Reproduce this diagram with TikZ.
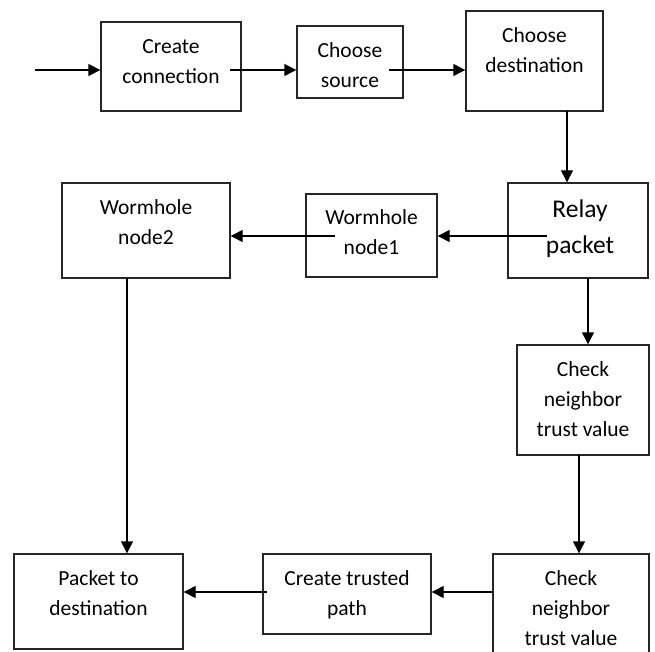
\documentclass[tikz,border=0pt]{standalone}
\usepackage{fontspec}
\setmainfont{Carlito}
\usetikzlibrary{arrows.meta}
\begin{document}
\begin{tikzpicture}[x=1pt,y=-1pt,
  box/.style={draw=black!85,line width=1.4pt,inner sep=0pt,rectangle},
  txt/.style={align=center,inner sep=0pt,font=\fontsize{21.5}{30}\selectfont},
  bigtxt/.style={align=center,inner sep=0pt,font=\fontsize{25.5}{36}\selectfont},
  arr/.style={line width=1.4pt,draw=black,-{Triangle[length=12pt,width=12pt]}}]
\path[use as bounding box,clip] (0,0) rectangle (655,652);
% boxes
\node[box,minimum width=140pt,minimum height=89pt] (cc) at (171,66.5) {};
\node[box,minimum width=106pt,minimum height=72pt] (cs) at (350,62) {};
\node[box,minimum width=137pt,minimum height=100pt] (cd) at (534.5,61) {};
\node[box,minimum width=140pt,minimum height=95pt] (rp) at (578,230.5) {};
\node[box,minimum width=131pt,minimum height=83pt] (wn1) at (371.5,235.5) {};
\node[box,minimum width=168pt,minimum height=95pt] (wn2) at (146,230.5) {};
\node[box,minimum width=132pt,minimum height=110pt] (ch1) at (583,400) {};
\node[box,minimum width=169pt,minimum height=95pt] (pd) at (98.5,601.5) {};
\node[box,minimum width=168pt,minimum height=80pt] (ctp) at (347,594) {};
\node[box,minimum width=156pt,minimum height=126pt] (ch2) at (571,617) {};
% texts
\node[txt] (cct) at (171,62) {Create\\connection};
\node[txt] (cst) at (350,65) {Choose\\source};
\node[txt] (cdt) at (534.5,50.5) {Choose\\destination};
\node[bigtxt] (rpt) at (580,229) {Relay\\packet};
\node[txt] (wn1t) at (371.5,232.5) {Wormhole\\node1};
\node[txt] (wn2t) at (146,222.5) {Wormhole\\node2};
\node[txt] (ch1t) at (583,399.5) {Check\\neighbor\\trust value};
\node[txt] (pdt) at (98.5,593.5) {Packet to\\destination};
\node[txt] (ctpt) at (347,594.5) {Create trusted\\path};
\node[txt] (ch2t) at (571,608.5) {Check\\neighbor\\trust value};
% connector start points
\coordinate (s0) at (35,70);
\coordinate (s1) at (230,70);
\coordinate (s2) at (389,70);
\coordinate (s3) at (567,111);
\coordinate (s4) at (547,236);
\coordinate (s5) at (335,236);
\coordinate (s6) at (127,278);
\coordinate (s7) at (588,278);
\coordinate (s8) at (579,455);
\coordinate (s9) at (493,592);
\coordinate (s10) at (267,592);
% connectors
\draw[arr] (s0) -- (s0 -| cc.west);
\draw[arr] (s1) -- (s1 -| cs.west);
\draw[arr] (s2) -- (s2 -| cd.west);
\draw[arr] (s3) -- (s3 |- rp.north);
\draw[arr] (s4) -- (s4 -| wn1.east);
\draw[arr] (s5) -- (s5 -| wn2.east);
\draw[arr] (s6) -- (s6 |- pd.north);
\draw[arr] (s7) -- (s7 |- ch1.north);
\draw[arr] (s8) -- (s8 |- ch2.north);
\draw[arr] (s9) -- (s9 -| ctp.east);
\draw[arr] (s10) -- (s10 -| pd.east);
\end{tikzpicture}
\end{document}
